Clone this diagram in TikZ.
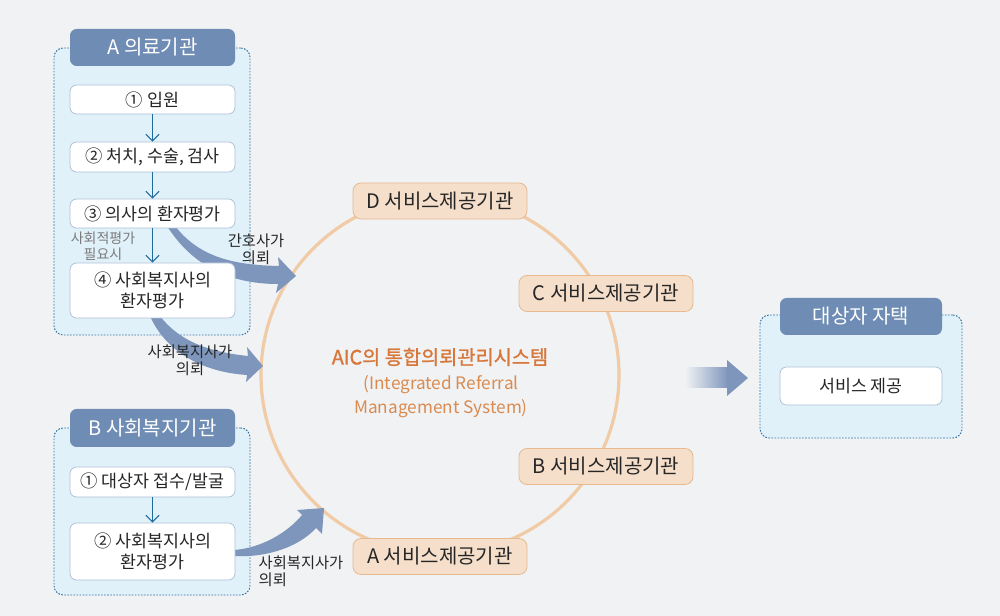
\documentclass[tikz,border=0pt]{standalone}
\usepackage{fontspec}
\setmainfont{Noto Sans CJK KR}
\newfontfamily\titlefont[FakeBold=1.2]{Noto Sans CJK KR}
\usetikzlibrary{arrows.meta}

\definecolor{bg}{HTML}{F1F2F4}
\definecolor{panelfill}{HTML}{E0F1FA}
\definecolor{paneledge}{HTML}{2E72A2}
\definecolor{headfill}{HTML}{6F8CB4}
\definecolor{boxedge}{HTML}{AFC0D8}
\definecolor{flow}{HTML}{1F6B9C}
\definecolor{ring}{HTML}{F0CBA5}
\definecolor{svcfill}{HTML}{F5DFCB}
\definecolor{svcedge}{HTML}{E6B98E}
\definecolor{arrowblue}{HTML}{7E96BB}
\definecolor{titlec}{HTML}{D8773A}
\definecolor{subc}{HTML}{D98B50}
\definecolor{txt}{HTML}{262626}
\definecolor{notec}{HTML}{7A7A7A}

\begin{document}
\begin{tikzpicture}[x=0.75pt,y=-0.75pt,
  panel/.style={draw=paneledge, fill=panelfill, dash pattern=on 1.2pt off 1.1pt,
    line width=0.7pt, rounded corners=7pt, inner sep=0},
  head/.style={fill=headfill, rounded corners=5pt, text=white,
    font=\fontsize{15}{18}\selectfont, inner sep=0,
    minimum width=165*0.75pt, minimum height=37*0.75pt},
  stepbox/.style={draw=boxedge, fill=white, rounded corners=5pt, text=txt,
    font=\fontsize{13}{16}\selectfont, align=center, inner sep=0,
    line width=0.6pt, minimum width=165*0.75pt},
  svc/.style={draw=svcedge, fill=svcfill, rounded corners=6pt, text=txt,
    font=\fontsize{15}{18}\selectfont, minimum width=174*0.75pt,
    minimum height=36*0.75pt, inner sep=0, line width=0.6pt},
  flowarrow/.style={draw=flow, line width=0.8pt, -{Straight Barb[length=5pt,width=10pt]}},
  bentarrow/.style={fill=arrowblue},
  notetext/.style={text=notec, font=\fontsize{10.5}{12}\selectfont, align=center},
  lbl/.style={text=txt, font=\fontsize{11.5}{12.75}\selectfont, align=center}
]
% canvas
\fill[bg] (0,0) rectangle (1000,616);
\useasboundingbox (0,0) rectangle (1000,616);

% referral ring with service providers
\node[circle, draw=ring, line width=2.4pt, minimum size=358*0.75pt, inner sep=0] (ring) at (440,375) {};

% panels
\node[panel, minimum width=196*0.75pt, minimum height=287*0.75pt] (panelA) at (152,191.5) {};
\node[panel, minimum width=196*0.75pt, minimum height=167*0.75pt] (panelB) at (152,511.5) {};
\node[panel, minimum width=202*0.75pt, minimum height=123*0.75pt] (panelH) at (861,376.5) {};

% curved referral arrows
\coordinate (n1tail) at (175,226);
\coordinate (n1tip) at (296,276);
\fill[bentarrow] (n1tail) .. controls (200,258) and (235,265) .. (279,266) -- (278,257) -- (n1tip)
  -- (276,293) -- (278,284) .. controls (225,284) and (190,262) .. (167,226) -- cycle;

\coordinate (s1tail) at (160,316);
\coordinate (s1tip) at (263,366);
\fill[bentarrow] (s1tail) .. controls (180,342) and (210,352) .. (248,356) -- (247,347) -- (s1tip)
  -- (246,382) -- (247,375) .. controls (200,372) and (165,350) .. (150,316) -- cycle;

\coordinate (s2tail) at (234,550);
\coordinate (s2tip) at (324,508);
\fill[bentarrow] (s2tail) .. controls (262,548) and (288,532) .. (302,515) -- (297,510) -- (s2tip)
  -- (322,534) -- (316,528) .. controls (300,546) and (268,558) .. (234,556) -- cycle;

% A: medical institution
\node[head] (hA) at (152.5,47.5) {A 의료기관};
\node[stepbox, minimum height=29*0.75pt] (a1) at (152.5,99.5) {① 입원};
\node[stepbox, minimum height=30*0.75pt] (a2) at (152.5,157) {② 처치, 수술, 검사};
\node[stepbox, minimum height=29*0.75pt] (a3) at (152.5,213.5) {③ 의사의 환자평가};
\node[stepbox, minimum height=55*0.75pt] (a4) at (152.5,290.5) {④ 사회복지사의\\환자평가};
\draw[flowarrow] (a1) -- (a2);
\draw[flowarrow] (a2) -- (a3);
\draw[flowarrow] (a3) -- (a4);
\node[notetext] (needsoc) at (103,246) {사회적평가\\필요시};

% B: social welfare institution
\node[head, minimum height=38*0.75pt] (hB) at (152.5,428) {B 사회복지기관};
\node[stepbox, minimum height=30*0.75pt] (b1) at (152.5,482) {① 대상자 접수/발굴};
\node[stepbox, minimum height=57*0.75pt] (b2) at (152.5,551.5) {② 사회복지사의\\환자평가};
\draw[flowarrow] (b1) -- (b2);

% arrow labels
\node[lbl] (lblNurse) at (256,249) {간호사가\\의뢰};
\node[lbl] (lblSw1) at (190,360) {사회복지사가\\의뢰};
\node[lbl, align=left, anchor=west] (lblSw2) at (254,571) {사회복지사가\\의뢰};

% service providers on the ring
\node[svc] (svcD) at (440,201) {D 서비스제공기관};
\node[svc] (svcC) at (606,293.5) {C 서비스제공기관};
\node[svc] (svcB) at (606,466.5) {B 서비스제공기관};
\node[svc] (svcA) at (440,556.5) {A 서비스제공기관};

% system title
\node[text=titlec, font=\titlefont\fontsize{14.8}{17}\selectfont] (sysname) at (440,357) {AIC의 통합의뢰관리시스템};
\node[text=subc, font=\fontsize{12.9}{17.5}\selectfont, align=center] (sysen) at (441,396.5) {(Integrated Referral\\Management System)};

% outcome arrow
\shade[left color=bg, right color=arrowblue] (685,368) rectangle (728,388);
\fill[arrowblue] (727,360) -- (748,378) -- (727,396) -- cycle;

% home of the client
\node[head, minimum width=162*0.75pt] (hH) at (861,316.5) {대상자 자택};
\node[stepbox, minimum width=162*0.75pt, minimum height=38*0.75pt] (h1) at (861,386) {서비스 제공};
\end{tikzpicture}
\end{document}
